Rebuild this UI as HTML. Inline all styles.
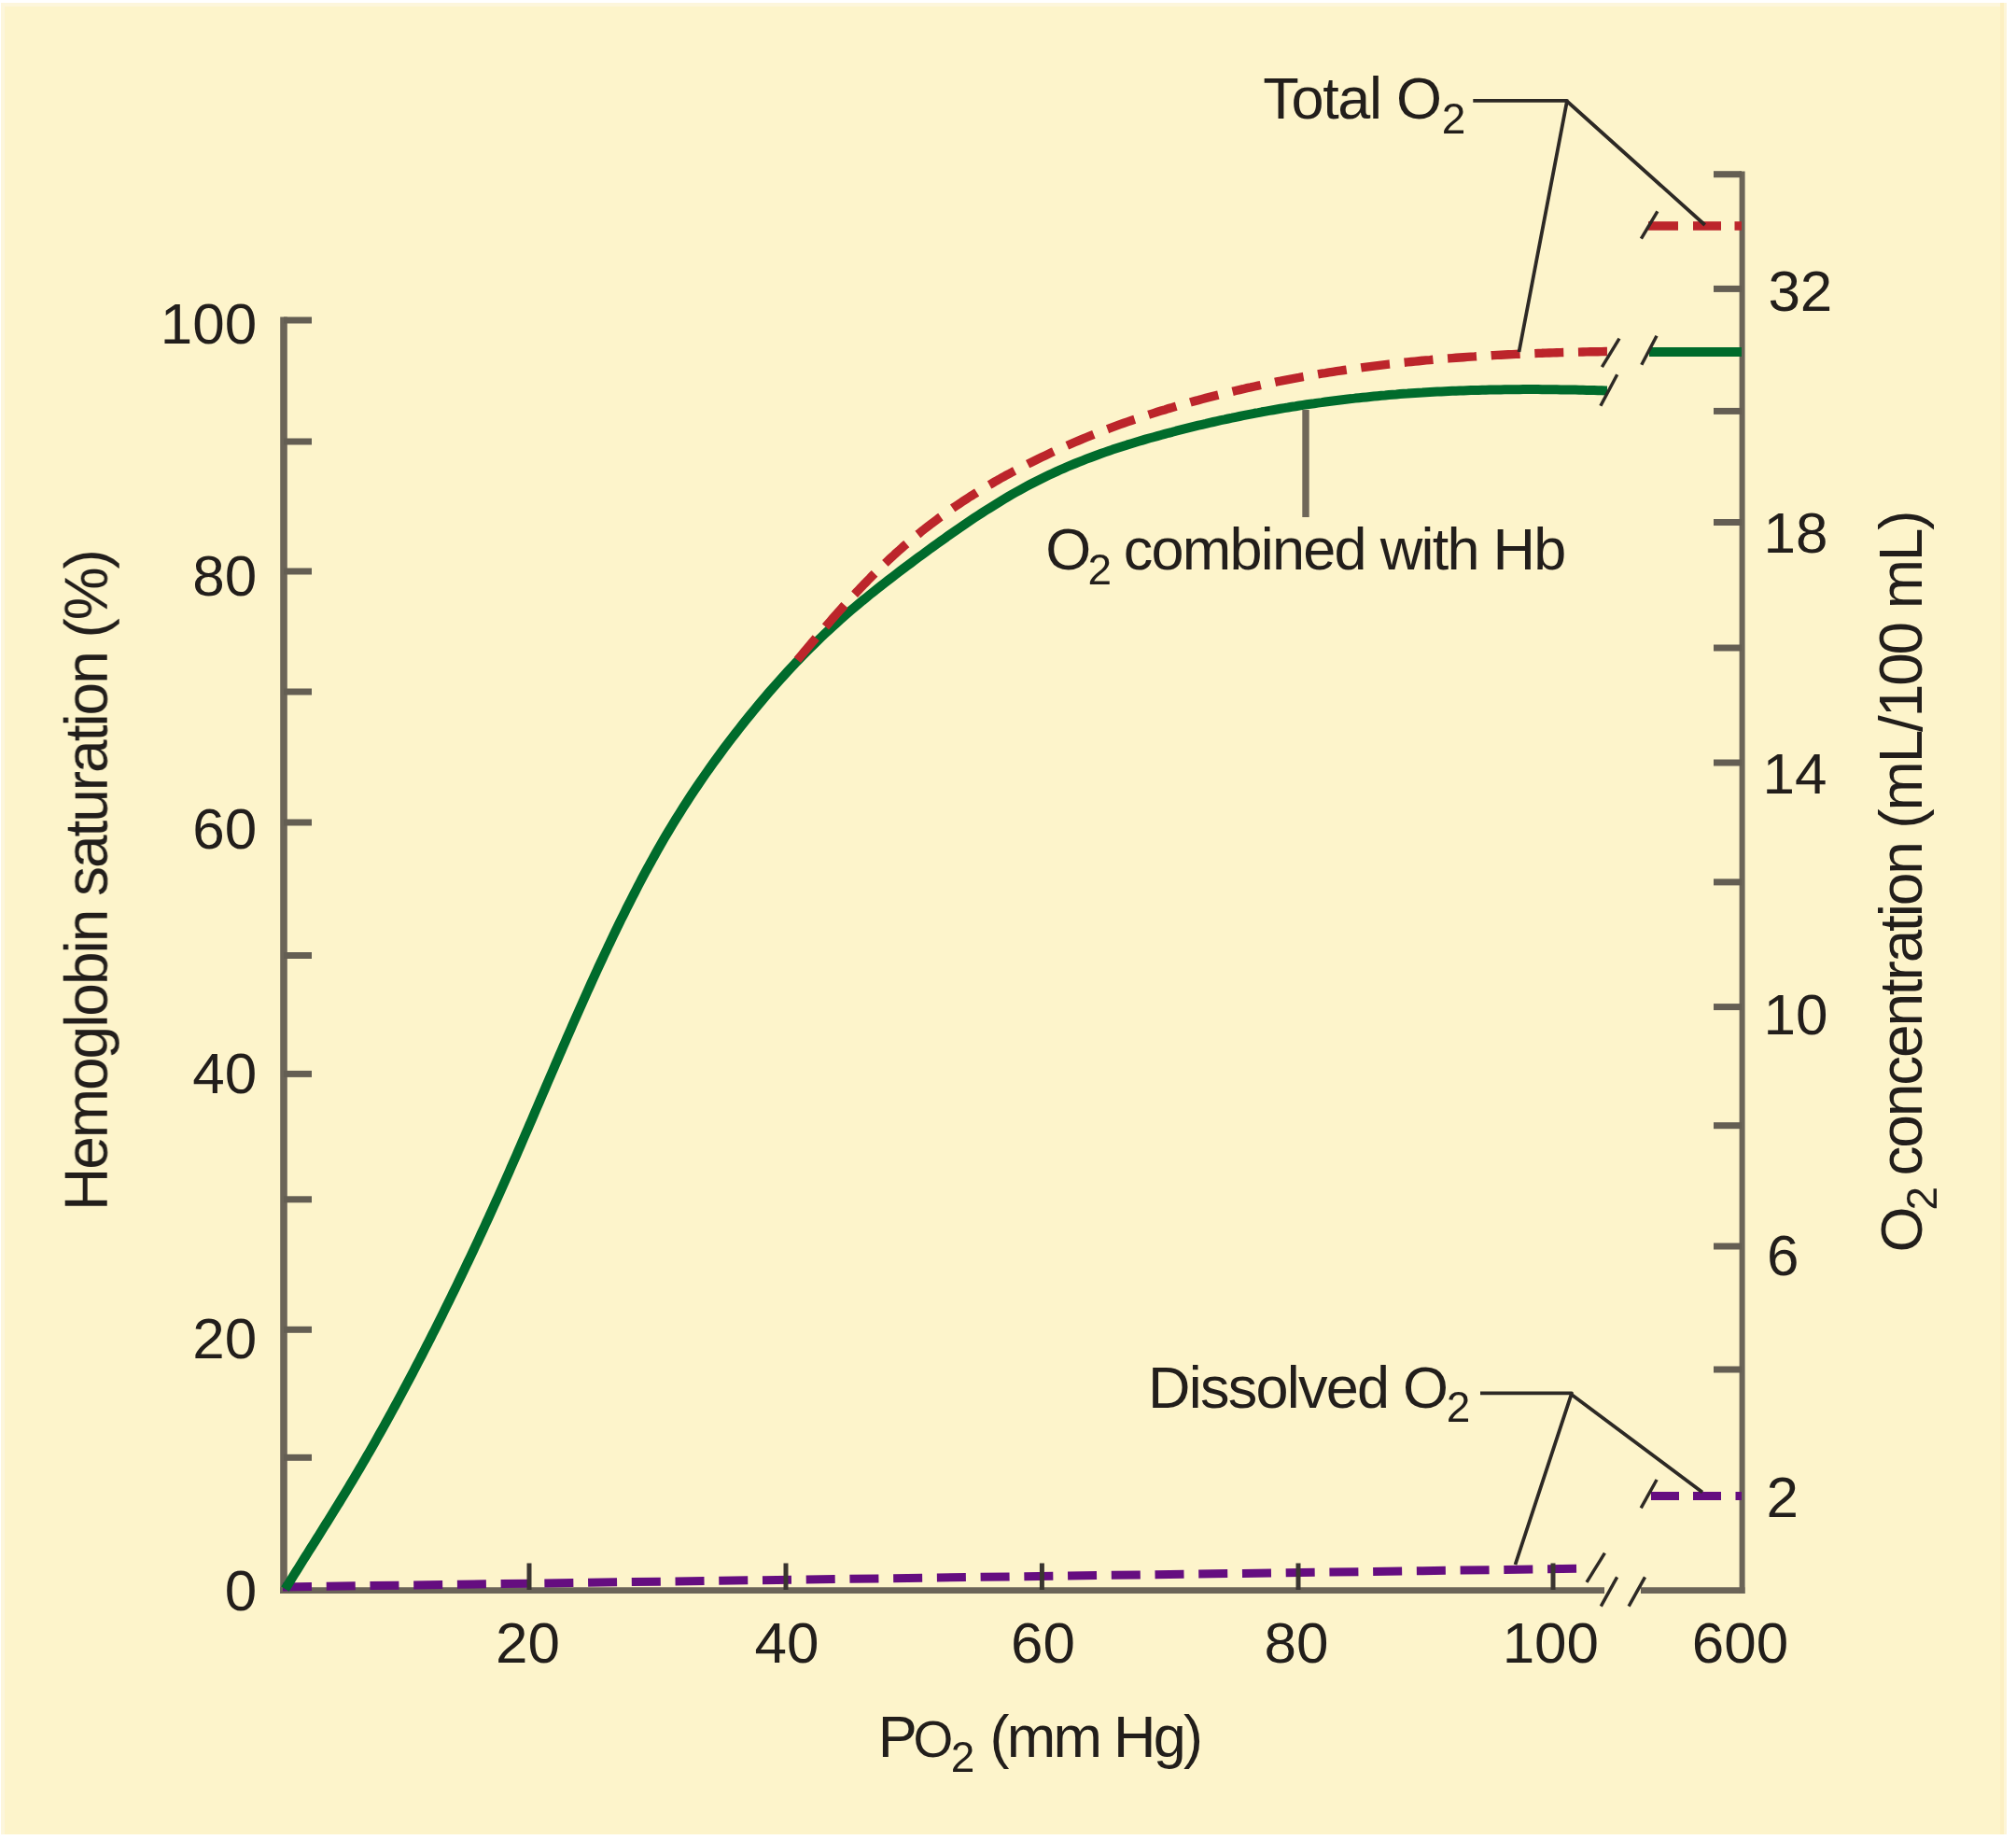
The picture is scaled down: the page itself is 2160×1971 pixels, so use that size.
<!DOCTYPE html>
<html><head><meta charset="utf-8"><title>Oxygen-hemoglobin dissociation curve</title>
<style>html,body{margin:0;padding:0;background:#fff;overflow:hidden}svg{display:block}</style>
</head><body>
<svg xmlns="http://www.w3.org/2000/svg" width="2160" height="1971" viewBox="0 0 2160 1971">
<rect x="1" y="3" width="2149" height="1962" fill="#fdf4cb"/>
<rect x="1" y="3" width="2149" height="4" fill="#fdf6dc"/>
<rect x="1" y="3" width="4" height="1962" fill="#fdf6dc"/>
<rect x="2143" y="3" width="4" height="1962" fill="#fcefc2"/>
<rect x="2147" y="3" width="3" height="1962" fill="#fdf5d8"/>
<path d="M304,339.5 V1707" stroke="#6b6458" stroke-width="7.6" fill="none"/>
<path d="M304,343 H334" stroke="#645e53" stroke-width="7" fill="none"/>
<path d="M304,473 H334" stroke="#645e53" stroke-width="7" fill="none"/>
<path d="M304,612 H334" stroke="#645e53" stroke-width="7" fill="none"/>
<path d="M304,741 H334" stroke="#645e53" stroke-width="7" fill="none"/>
<path d="M304,881 H334" stroke="#645e53" stroke-width="7" fill="none"/>
<path d="M304,1023.5 H334" stroke="#645e53" stroke-width="7" fill="none"/>
<path d="M304,1150.4 H334" stroke="#645e53" stroke-width="7" fill="none"/>
<path d="M304,1284.8 H334" stroke="#645e53" stroke-width="7" fill="none"/>
<path d="M304,1424.3 H334" stroke="#645e53" stroke-width="7" fill="none"/>
<path d="M304,1561.3 H334" stroke="#645e53" stroke-width="7" fill="none"/>
<path d="M300.2,1703.6 H1719" stroke="#6b6458" stroke-width="6.6" fill="none"/>
<path d="M1758,1703.6 H1869.5" stroke="#6b6458" stroke-width="6.6" fill="none"/>
<path d="M1866.6,183.5 V1707" stroke="#6b6458" stroke-width="6" fill="none"/>
<path d="M1836,186.7 H1866" stroke="#645e53" stroke-width="7" fill="none"/>
<path d="M1836,309.4 H1866" stroke="#645e53" stroke-width="7" fill="none"/>
<path d="M1836,440.4 H1866" stroke="#645e53" stroke-width="7" fill="none"/>
<path d="M1836,559.5 H1866" stroke="#645e53" stroke-width="7" fill="none"/>
<path d="M1836,694 H1866" stroke="#645e53" stroke-width="7" fill="none"/>
<path d="M1836,817 H1866" stroke="#645e53" stroke-width="7" fill="none"/>
<path d="M1836,944.9 H1866" stroke="#645e53" stroke-width="7" fill="none"/>
<path d="M1836,1078.6 H1866" stroke="#645e53" stroke-width="7" fill="none"/>
<path d="M1836,1205.7 H1866" stroke="#645e53" stroke-width="7" fill="none"/>
<path d="M1836,1335 H1866" stroke="#645e53" stroke-width="7" fill="none"/>
<path d="M1836,1467 H1866" stroke="#645e53" stroke-width="7" fill="none"/>
<path d="M303,1699.9 L1691,1680.3" stroke="#650d80" stroke-width="9" fill="none" stroke-dasharray="31 15.73"/>
<path d="M567,1674.5 V1703" stroke="#3a3530" stroke-width="5" fill="none"/>
<path d="M842,1674.5 V1703" stroke="#3a3530" stroke-width="5" fill="none"/>
<path d="M1116.4,1674.5 V1703" stroke="#3a3530" stroke-width="5" fill="none"/>
<path d="M1391,1674.5 V1703" stroke="#3a3530" stroke-width="5" fill="none"/>
<path d="M1664,1674.5 V1703" stroke="#3a3530" stroke-width="5" fill="none"/>
<path d="M305.5,1702.2 L307.5,1699.0 L309.5,1695.8 L311.5,1692.6 L313.5,1689.4 L315.5,1686.2 L317.5,1683.0 L319.5,1679.8 L321.5,1676.6 L323.5,1673.4 L325.5,1670.2 L327.5,1667.0 L329.5,1663.9 L331.5,1660.7 L333.5,1657.5 L335.5,1654.3 L337.5,1651.2 L339.5,1648.0 L341.5,1644.8 L343.5,1641.6 L345.5,1638.4 L347.5,1635.2 L349.5,1632.0 L351.5,1628.8 L353.5,1625.6 L355.5,1622.4 L357.5,1619.2 L359.5,1615.9 L361.5,1612.7 L363.5,1609.5 L365.5,1606.2 L367.5,1602.9 L369.5,1599.6 L371.5,1596.3 L373.5,1593.0 L375.5,1589.7 L377.5,1586.4 L379.5,1583.0 L381.5,1579.7 L383.5,1576.3 L385.5,1572.9 L387.5,1569.5 L389.5,1566.0 L391.5,1562.6 L393.5,1559.1 L395.5,1555.7 L397.5,1552.2 L399.5,1548.7 L401.5,1545.2 L403.5,1541.6 L405.5,1538.1 L407.5,1534.5 L409.5,1531.0 L411.5,1527.4 L413.5,1523.8 L415.5,1520.1 L417.5,1516.5 L419.5,1512.9 L421.5,1509.2 L423.5,1505.5 L425.5,1501.8 L427.5,1498.1 L429.5,1494.4 L431.5,1490.7 L433.5,1486.9 L435.5,1483.2 L437.5,1479.4 L439.5,1475.6 L441.5,1471.8 L443.5,1468.0 L445.5,1464.2 L447.5,1460.3 L449.5,1456.5 L451.5,1452.6 L453.5,1448.7 L455.5,1444.8 L457.5,1440.9 L459.5,1437.0 L461.5,1433.1 L463.5,1429.1 L465.5,1425.2 L467.5,1421.2 L469.5,1417.2 L471.5,1413.2 L473.5,1409.2 L475.5,1405.1 L477.5,1401.1 L479.5,1397.1 L481.5,1393.0 L483.5,1388.9 L485.5,1384.8 L487.5,1380.7 L489.5,1376.6 L491.5,1372.4 L493.5,1368.3 L495.5,1364.1 L497.5,1359.9 L499.5,1355.7 L501.5,1351.5 L503.5,1347.3 L505.5,1343.1 L507.5,1338.8 L509.5,1334.5 L511.5,1330.3 L513.5,1326.0 L515.5,1321.6 L517.5,1317.3 L519.5,1313.0 L521.5,1308.6 L523.5,1304.3 L525.5,1299.9 L527.5,1295.5 L529.5,1291.0 L531.5,1286.6 L533.5,1282.2 L535.5,1277.7 L537.5,1273.2 L539.5,1268.7 L541.5,1264.2 L543.5,1259.7 L545.5,1255.2 L547.5,1250.6 L549.5,1246.0 L551.5,1241.5 L553.5,1236.9 L555.5,1232.3 L557.5,1227.7 L559.5,1223.1 L561.5,1218.4 L563.5,1213.8 L565.5,1209.2 L567.5,1204.5 L569.5,1199.9 L571.5,1195.2 L573.5,1190.6 L575.5,1185.9 L577.5,1181.2 L579.5,1176.6 L581.5,1171.9 L583.5,1167.2 L585.5,1162.6 L587.5,1157.9 L589.5,1153.3 L591.5,1148.6 L593.5,1144.0 L595.5,1139.3 L597.5,1134.7 L599.5,1130.0 L601.5,1125.4 L603.5,1120.8 L605.5,1116.2 L607.5,1111.6 L609.5,1107.0 L611.5,1102.4 L613.5,1097.8 L615.5,1093.3 L617.5,1088.7 L619.5,1084.2 L621.5,1079.7 L623.5,1075.2 L625.5,1070.7 L627.5,1066.2 L629.5,1061.8 L631.5,1057.4 L633.5,1052.9 L635.5,1048.5 L637.5,1044.2 L639.5,1039.8 L641.5,1035.4 L643.5,1031.1 L645.5,1026.8 L647.5,1022.5 L649.5,1018.3 L651.5,1014.0 L653.5,1009.8 L655.5,1005.6 L657.5,1001.4 L659.5,997.3 L661.5,993.1 L663.5,989.0 L665.5,984.9 L667.5,980.9 L669.5,976.9 L671.5,972.8 L673.5,968.9 L675.5,964.9 L677.5,961.0 L679.5,957.1 L681.5,953.2 L683.5,949.3 L685.5,945.5 L687.5,941.7 L689.5,937.9 L691.5,934.2 L693.5,930.5 L695.5,926.8 L697.5,923.2 L699.5,919.6 L700.0,918.7 L704.0,911.5 L708.0,904.5 L712.0,897.6 L716.0,890.9 L720.0,884.2 L724.0,877.7 L728.0,871.3 L732.0,864.9 L736.0,858.7 L740.0,852.6 L744.0,846.5 L748.0,840.6 L752.0,834.7 L756.0,829.0 L760.0,823.3 L764.0,817.7 L768.0,812.2 L772.0,806.7 L776.0,801.3 L780.0,796.0 L784.0,790.8 L788.0,785.6 L792.0,780.5 L796.0,775.4 L800.0,770.4 L804.0,765.5 L808.0,760.6 L812.0,755.8 L816.0,751.0 L820.0,746.3 L824.0,741.6 L828.0,737.0 L832.0,732.5 L836.0,728.0 L840.0,723.6 L844.0,719.2 L848.0,714.9 L852.0,710.6 L856.0,706.5 L860.0,702.3 L864.0,698.2 L868.0,694.2 L872.0,690.3 L876.0,686.4 L880.0,682.5 L884.0,678.7 L888.0,675.0 L892.0,671.3 L896.0,667.7 L900.0,664.1 L904.0,660.6 L908.0,657.1 L912.0,653.6 L916.0,650.2 L920.0,646.9 L924.0,643.5 L928.0,640.3 L932.0,637.0 L936.0,633.8 L940.0,630.6 L944.0,627.5 L948.0,624.3 L952.0,621.2 L956.0,618.2 L960.0,615.1 L964.0,612.1 L968.0,609.0 L972.0,606.0 L976.0,603.1 L980.0,600.1 L984.0,597.1 L988.0,594.2 L992.0,591.2 L996.0,588.3 L1000.0,585.4 L1004.0,582.5 L1008.0,579.6 L1012.0,576.8 L1016.0,573.9 L1020.0,571.1 L1024.0,568.3 L1028.0,565.6 L1032.0,562.8 L1036.0,560.1 L1040.0,557.4 L1044.0,554.7 L1048.0,552.1 L1052.0,549.5 L1056.0,546.9 L1060.0,544.4 L1064.0,541.9 L1068.0,539.4 L1072.0,536.9 L1076.0,534.5 L1080.0,532.2 L1084.0,529.8 L1088.0,527.5 L1092.0,525.3 L1096.0,523.1 L1100.0,520.9 L1104.0,518.8 L1108.0,516.7 L1112.0,514.7 L1116.0,512.7 L1120.0,510.7 L1124.0,508.8 L1128.0,506.9 L1132.0,505.1 L1136.0,503.3 L1140.0,501.6 L1144.0,499.8 L1148.0,498.1 L1152.0,496.5 L1156.0,494.9 L1160.0,493.3 L1164.0,491.7 L1168.0,490.2 L1172.0,488.7 L1176.0,487.2 L1180.0,485.8 L1184.0,484.4 L1188.0,483.0 L1192.0,481.6 L1196.0,480.3 L1200.0,479.0 L1204.0,477.7 L1208.0,476.4 L1212.0,475.2 L1216.0,474.0 L1220.0,472.8 L1224.0,471.6 L1228.0,470.4 L1232.0,469.3 L1236.0,468.2 L1240.0,467.1 L1244.0,466.0 L1248.0,464.9 L1252.0,463.8 L1256.0,462.8 L1260.0,461.7 L1264.0,460.7 L1268.0,459.7 L1272.0,458.7 L1276.0,457.7 L1280.0,456.7 L1284.0,455.7 L1288.0,454.8 L1292.0,453.9 L1296.0,452.9 L1300.0,452.0 L1304.0,451.1 L1308.0,450.2 L1312.0,449.4 L1316.0,448.5 L1320.0,447.7 L1324.0,446.8 L1328.0,446.0 L1332.0,445.2 L1336.0,444.4 L1340.0,443.6 L1344.0,442.8 L1348.0,442.1 L1352.0,441.3 L1356.0,440.6 L1360.0,439.9 L1364.0,439.2 L1368.0,438.5 L1372.0,437.8 L1376.0,437.1 L1380.0,436.5 L1384.0,435.8 L1388.0,435.2 L1392.0,434.5 L1396.0,433.9 L1400.0,433.3 L1404.0,432.7 L1408.0,432.2 L1412.0,431.6 L1416.0,431.1 L1420.0,430.5 L1424.0,430.0 L1428.0,429.5 L1432.0,429.0 L1436.0,428.5 L1440.0,428.0 L1444.0,427.5 L1448.0,427.1 L1452.0,426.6 L1456.0,426.2 L1460.0,425.8 L1464.0,425.4 L1468.0,425.0 L1472.0,424.6 L1476.0,424.2 L1480.0,423.8 L1484.0,423.5 L1488.0,423.1 L1492.0,422.8 L1496.0,422.5 L1500.0,422.1 L1504.0,421.8 L1508.0,421.6 L1512.0,421.3 L1516.0,421.0 L1520.0,420.7 L1524.0,420.5 L1528.0,420.2 L1532.0,420.0 L1536.0,419.8 L1540.0,419.6 L1544.0,419.4 L1548.0,419.2 L1552.0,419.0 L1556.0,418.8 L1560.0,418.7 L1564.0,418.5 L1568.0,418.4 L1572.0,418.2 L1576.0,418.1 L1580.0,418.0 L1584.0,417.9 L1588.0,417.7 L1592.0,417.7 L1596.0,417.6 L1600.0,417.5 L1604.0,417.4 L1608.0,417.4 L1612.0,417.3 L1616.0,417.2 L1620.0,417.2 L1624.0,417.2 L1628.0,417.2 L1632.0,417.1 L1636.0,417.1 L1640.0,417.1 L1644.0,417.1 L1648.0,417.1 L1652.0,417.2 L1656.0,417.2 L1660.0,417.2 L1664.0,417.3 L1668.0,417.3 L1672.0,417.4 L1676.0,417.4 L1680.0,417.5 L1684.0,417.6 L1688.0,417.6 L1692.0,417.7 L1696.0,417.8 L1700.0,417.9 L1704.0,418.0 L1708.0,418.1 L1712.0,418.2 L1716.0,418.3 L1720.0,418.5 L1722.0,418.5" stroke="#006b2c" stroke-width="10" fill="none" stroke-linejoin="round"/>
<path d="M852.0,709.9 L854.0,707.5 L856.0,705.1 L858.0,702.6 L860.0,700.2 L862.0,697.8 L864.0,695.4 L866.0,693.1 L868.0,690.7 L870.0,688.3 L872.0,685.9 L874.0,683.6 L876.0,681.2 L878.0,678.9 L880.0,676.5 L882.0,674.2 L884.0,671.9 L886.0,669.6 L888.0,667.3 L890.0,665.0 L892.0,662.7 L894.0,660.4 L896.0,658.2 L898.0,655.9 L900.0,653.7 L902.0,651.5 L904.0,649.2 L906.0,647.0 L908.0,644.8 L910.0,642.6 L912.0,640.5 L914.0,638.3 L916.0,636.2 L918.0,634.0 L920.0,631.9 L922.0,629.8 L924.0,627.7 L926.0,625.6 L928.0,623.6 L930.0,621.5 L932.0,619.5 L934.0,617.4 L936.0,615.4 L938.0,613.4 L940.0,611.4 L942.0,609.5 L944.0,607.5 L946.0,605.6 L948.0,603.7 L950.0,601.8 L952.0,599.9 L954.0,598.0 L956.0,596.2 L958.0,594.4 L960.0,592.5 L962.0,590.7 L964.0,589.0 L966.0,587.2 L968.0,585.4 L970.0,583.7 L972.0,582.0 L974.0,580.3 L976.0,578.6 L978.0,576.9 L980.0,575.2 L982.0,573.6 L984.0,572.0 L986.0,570.3 L988.0,568.7 L990.0,567.1 L992.0,565.6 L994.0,564.0 L996.0,562.5 L998.0,560.9 L1000.0,559.4 L1002.0,557.9 L1004.0,556.4 L1006.0,554.9 L1008.0,553.5 L1010.0,552.0 L1012.0,550.6 L1014.0,549.1 L1016.0,547.7 L1018.0,546.3 L1020.0,544.9 L1022.0,543.5 L1024.0,542.2 L1026.0,540.8 L1028.0,539.5 L1030.0,538.1 L1032.0,536.8 L1034.0,535.5 L1036.0,534.2 L1038.0,532.9 L1040.0,531.6 L1042.0,530.4 L1044.0,529.1 L1046.0,527.9 L1048.0,526.6 L1050.0,525.4 L1052.0,524.2 L1054.0,523.0 L1056.0,521.8 L1058.0,520.6 L1060.0,519.4 L1062.0,518.3 L1064.0,517.1 L1066.0,515.9 L1068.0,514.8 L1070.0,513.7 L1072.0,512.5 L1074.0,511.4 L1076.0,510.3 L1078.0,509.2 L1080.0,508.1 L1082.0,507.1 L1084.0,506.0 L1086.0,504.9 L1088.0,503.9 L1090.0,502.8 L1092.0,501.8 L1094.0,500.7 L1096.0,499.7 L1098.0,498.7 L1100.0,497.7 L1104.0,495.7 L1108.0,493.7 L1112.0,491.7 L1116.0,489.8 L1120.0,487.9 L1124.0,486.0 L1128.0,484.1 L1132.0,482.3 L1136.0,480.5 L1140.0,478.7 L1144.0,477.0 L1148.0,475.2 L1152.0,473.5 L1156.0,471.8 L1160.0,470.2 L1164.0,468.5 L1168.0,466.9 L1172.0,465.3 L1176.0,463.7 L1180.0,462.2 L1184.0,460.7 L1188.0,459.2 L1192.0,457.7 L1196.0,456.2 L1200.0,454.7 L1204.0,453.3 L1208.0,451.9 L1212.0,450.5 L1216.0,449.2 L1220.0,447.8 L1224.0,446.5 L1228.0,445.2 L1232.0,443.9 L1236.0,442.6 L1240.0,441.3 L1244.0,440.1 L1248.0,438.9 L1252.0,437.6 L1256.0,436.5 L1260.0,435.3 L1264.0,434.1 L1268.0,433.0 L1272.0,431.9 L1276.0,430.7 L1280.0,429.6 L1284.0,428.6 L1288.0,427.5 L1292.0,426.4 L1296.0,425.4 L1300.0,424.4 L1304.0,423.4 L1308.0,422.4 L1312.0,421.4 L1316.0,420.4 L1320.0,419.5 L1324.0,418.5 L1328.0,417.6 L1332.0,416.7 L1336.0,415.7 L1340.0,414.9 L1344.0,414.0 L1348.0,413.1 L1352.0,412.2 L1356.0,411.4 L1360.0,410.6 L1364.0,409.8 L1368.0,408.9 L1372.0,408.2 L1376.0,407.4 L1380.0,406.6 L1384.0,405.8 L1388.0,405.1 L1392.0,404.4 L1396.0,403.6 L1400.0,402.9 L1404.0,402.2 L1408.0,401.5 L1412.0,400.9 L1416.0,400.2 L1420.0,399.6 L1424.0,398.9 L1428.0,398.3 L1432.0,397.7 L1436.0,397.1 L1440.0,396.5 L1444.0,395.9 L1448.0,395.3 L1452.0,394.7 L1456.0,394.2 L1460.0,393.6 L1464.0,393.1 L1468.0,392.6 L1472.0,392.1 L1476.0,391.6 L1480.0,391.1 L1484.0,390.6 L1488.0,390.1 L1492.0,389.7 L1496.0,389.2 L1500.0,388.8 L1504.0,388.3 L1508.0,387.9 L1512.0,387.5 L1516.0,387.1 L1520.0,386.7 L1524.0,386.3 L1528.0,385.9 L1532.0,385.6 L1536.0,385.2 L1540.0,384.9 L1544.0,384.5 L1548.0,384.2 L1552.0,383.9 L1556.0,383.6 L1560.0,383.3 L1564.0,383.0 L1568.0,382.7 L1572.0,382.4 L1576.0,382.1 L1580.0,381.9 L1584.0,381.6 L1588.0,381.3 L1592.0,381.1 L1596.0,380.9 L1600.0,380.6 L1604.0,380.4 L1608.0,380.2 L1612.0,380.0 L1616.0,379.8 L1620.0,379.6 L1624.0,379.4 L1628.0,379.2 L1632.0,379.0 L1636.0,378.9 L1640.0,378.7 L1644.0,378.6 L1648.0,378.4 L1652.0,378.3 L1656.0,378.1 L1660.0,378.0 L1664.0,377.9 L1668.0,377.7 L1672.0,377.6 L1676.0,377.5 L1680.0,377.4 L1684.0,377.3 L1688.0,377.2 L1692.0,377.1 L1696.0,377.0 L1700.0,376.9 L1704.0,376.8 L1708.0,376.7 L1712.0,376.7 L1716.0,376.6 L1720.0,376.5 L1723.0,376.5" stroke="#bc252b" stroke-width="9.4" fill="none" stroke-dasharray="31 15.69" stroke-dashoffset="-3.65"/>
<path d="M1767,377 H1866" stroke="#006b2c" stroke-width="10" fill="none"/>
<path d="M1766,242 H1798 M1814,242 H1844 M1858.5,242 H1866" stroke="#bc252b" stroke-width="9.4" fill="none"/>
<path d="M1769,1602.5 H1799 M1814,1602.5 H1844 M1859.5,1602.5 H1866" stroke="#650d80" stroke-width="9.2" fill="none"/>
<path d="M1716.4,393.2 L1735,362.6" stroke="#2d2925" stroke-width="3.5" fill="none"/>
<path d="M1714.9,434.8 L1732.7,401.3" stroke="#2d2925" stroke-width="3.5" fill="none"/>
<path d="M1758.8,390.8 L1775,359.8" stroke="#2d2925" stroke-width="3.5" fill="none"/>
<path d="M1758.4,255.7 L1775.9,226.3" stroke="#2d2925" stroke-width="3.5" fill="none"/>
<path d="M1700,1694.9 L1719.4,1663.6" stroke="#2d2925" stroke-width="3.5" fill="none"/>
<path d="M1758.2,1615.4 L1775.1,1585" stroke="#2d2925" stroke-width="3.5" fill="none"/>
<path d="M1715.3,1720.6 L1732.6,1689.3" stroke="#2d2925" stroke-width="3.5" fill="none"/>
<path d="M1745.1,1720.6 L1762.5,1689.3" stroke="#2d2925" stroke-width="3.5" fill="none"/>
<path d="M1578.3,107.8 H1679 L1627.5,377 M1679,108.5 L1826.7,241" stroke="#2d2925" stroke-width="3.8" fill="none" stroke-linejoin="round"/>
<path d="M1399,439 V554" stroke="#6f6759" stroke-width="7.4" fill="none"/>
<path d="M1586,1492.3 H1684 L1623.5,1676 M1684,1494 L1824,1598.5" stroke="#2d2925" stroke-width="3.8" fill="none" stroke-linejoin="round"/>
<g font-family="'Liberation Sans', Arial, Helvetica, sans-serif" fill="#221e1b" style="opacity:0.999">
<text x="1353.20" y="127.3" font-size="63" textLength="191.80" lengthAdjust="spacing">Total O</text>
<text x="1544.80" y="143.0" font-size="46">2</text>
<text x="1120.20" y="609.8" font-size="63">O</text>
<text x="1165.50" y="625.5" font-size="46">2</text>
<text x="1203.70" y="610.2" font-size="63" textLength="474.54" lengthAdjust="spacing">combined with Hb</text>
<text x="1230.10" y="1507.8" font-size="63" textLength="321.80" lengthAdjust="spacing">Dissolved O</text>
<text x="1549.70" y="1523.3" font-size="46">2</text>
<text x="940.70" y="1882.1" font-size="63">P</text>
<text x="978.50" y="1881.8" font-size="55">O</text>
<text x="1018.70" y="1897.5" font-size="46">2</text>
<text x="1060.60" y="1882.0" font-size="63" textLength="228.28" lengthAdjust="spacing">(mm Hg)</text>
<text x="171.84" y="368.0" font-size="62">100</text>
<text x="206.32" y="638.2" font-size="62">80</text>
<text x="206.32" y="909.0" font-size="62">60</text>
<text x="206.32" y="1171.2" font-size="62">40</text>
<text x="206.32" y="1454.5" font-size="62">20</text>
<text x="240.80" y="1725.4" font-size="62">0</text>
<text x="1894.40" y="333.0" font-size="62">32</text>
<text x="1889.42" y="592.2" font-size="62">18</text>
<text x="1888.52" y="850.0" font-size="62">14</text>
<text x="1889.52" y="1107.5" font-size="62">10</text>
<text x="1893.00" y="1366.2" font-size="62">6</text>
<text x="1892.50" y="1625.2" font-size="62">2</text>
<text x="531.12" y="1781.2" font-size="62">20</text>
<text x="808.42" y="1780.6" font-size="62">40</text>
<text x="1082.92" y="1781.0" font-size="62">60</text>
<text x="1354.62" y="1780.6" font-size="62">80</text>
<text x="1609.64" y="1781.0" font-size="62">100</text>
<text x="1812.84" y="1781.0" font-size="62">600</text>
<text transform="translate(114.7,1297.00) rotate(-90)" x="0" y="0" font-size="64" textLength="708.91" lengthAdjust="spacing">Hemoglobin saturation (%)</text>
<text transform="translate(2058.7,1341.40) rotate(-90)" x="0" y="0" font-size="63">O</text>
<text transform="translate(2075.0,1296.60) rotate(-90)" x="0" y="0" font-size="46">2</text>
<text transform="translate(2059.0,1259.60) rotate(-90)" x="0" y="0" font-size="64" textLength="713.21" lengthAdjust="spacing">concentration (mL/100 mL)</text>
</g>
</svg>
</body></html>
